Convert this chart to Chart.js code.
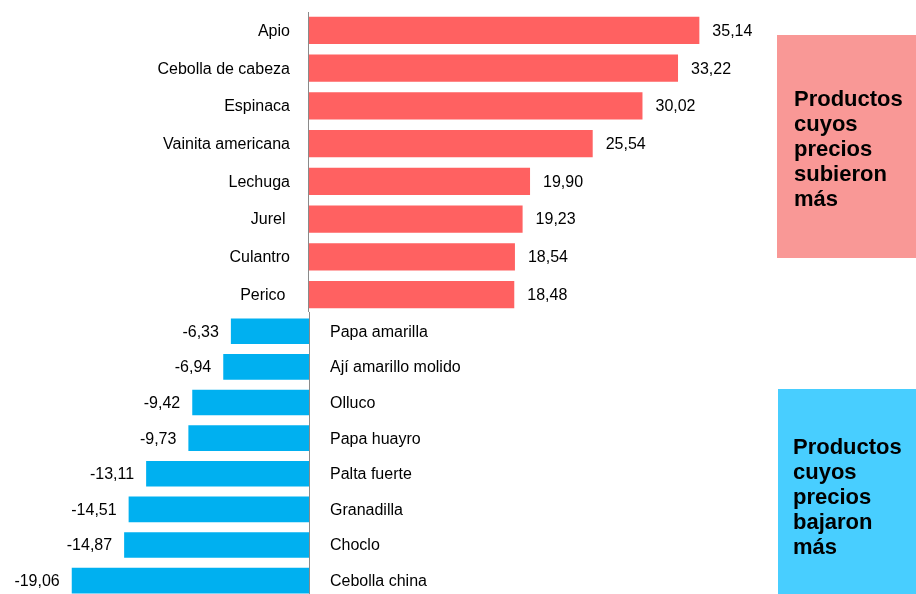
<!DOCTYPE html>
<html><head><meta charset="utf-8">
<script src="https://cdn.jsdelivr.net/npm/chart.js@4/dist/chart.umd.min.js"></script>
<style>html,body{margin:0;padding:0;background:#fff;overflow:hidden;} canvas{display:block;}</style>
</head><body>
<canvas id="c" width="916" height="599"></canvas>
<script>
const categoriesUp = ['Apio', 'Cebolla de cabeza', 'Espinaca', 'Vainita americana', 'Lechuga', 'Jurel ', 'Culantro', 'Perico '];
const valuesUp = [35.14, 33.22, 30.02, 25.54, 19.90, 19.23, 18.54, 18.48];
const categoriesDown = ['Papa amarilla', 'Ají amarillo molido', 'Olluco', 'Papa huayro', 'Palta fuerte', 'Granadilla', 'Choclo', 'Cebolla china'];
const valuesDown = [-6.33, -6.94, -9.42, -9.73, -13.11, -14.51, -14.87, -19.06];
const boxTextUp = ['Productos', 'cuyos', 'precios', 'subieron', 'más'];
const boxTextDown = ['Productos', 'cuyos', 'precios', 'bajaron', 'más'];

const FONT = '"Liberation Sans", Arial, sans-serif';
const fmt = v => v.toFixed(2).replace('.', ',');

const labelPlugin = {
  id: 'labels',
  afterDatasetsDraw(chart) {
    const ctx = chart.ctx;
    const x = chart.scales.x, x2 = chart.scales.x2, y = chart.scales.y, y2 = chart.scales.y2;
    ctx.save();
    // axis lines
    ctx.strokeStyle = '#8a8a8a';
    ctx.lineWidth = 1;
    const z1 = x.getPixelForValue(0), z2 = x2.getPixelForValue(0);
    ctx.beginPath();
    ctx.moveTo(Math.round(z1) - 0.5, 12);
    ctx.lineTo(Math.round(z1) - 0.5, y.bottom - 1.5);
    ctx.stroke();
    ctx.beginPath();
    ctx.moveTo(Math.round(z2) - 0.5, y.bottom - 1.5);
    ctx.lineTo(Math.round(z2) - 0.5, y2.bottom);
    ctx.stroke();

    ctx.font = '16px ' + FONT;
    ctx.fillStyle = '#000';
    ctx.textBaseline = 'middle';
    const m1 = chart.getDatasetMeta(0), m2 = chart.getDatasetMeta(1);
    m1.data.forEach((bar, i) => {
      ctx.textAlign = 'right';
      ctx.fillText(categoriesUp[i], z1 - 19, bar.y + 1);
      ctx.textAlign = 'left';
      ctx.fillText(fmt(valuesUp[i]), bar.x + 13, bar.y + 1);
    });
    m2.data.forEach((bar, i) => {
      ctx.textAlign = 'left';
      ctx.fillText(categoriesDown[i], z2 + 20, bar.y + 1);
      ctx.textAlign = 'right';
      ctx.fillText(fmt(valuesDown[i]), bar.x - 12, bar.y + 1);
    });

    // side boxes
    ctx.fillStyle = '#F99896';
    ctx.fillRect(777, 35, 139, 223);
    ctx.fillStyle = '#48CEFF';
    ctx.fillRect(778, 389, 138, 210);
    ctx.fillStyle = '#000';
    ctx.font = 'bold 22px ' + FONT;
    ctx.textAlign = 'left';
    ctx.textBaseline = 'alphabetic';
    boxTextUp.forEach((t, i) => ctx.fillText(t, 794, 106 + i * 25));
    boxTextDown.forEach((t, i) => ctx.fillText(t, 793, 454 + i * 25));
    ctx.restore();
  }
};

new Chart(document.getElementById('c'), {
  type: 'bar',
  data: {
    datasets: [
      { data: valuesUp, xAxisID: 'x', yAxisID: 'y', backgroundColor: '#FF6161', borderWidth: 0,
        grouped: false, barPercentage: 0.9, categoryPercentage: 0.8 },
      { data: valuesDown, xAxisID: 'x2', yAxisID: 'y2', backgroundColor: '#00B0F0', borderWidth: 0,
        grouped: false, barPercentage: 0.9, categoryPercentage: 0.8 }
    ]
  },
  options: {
    indexAxis: 'y',
    responsive: false,
    animation: false,
    devicePixelRatio: 1,
    layout: { padding: { top: 11.5, bottom: 0.6, left: 0, right: 0 } },
    plugins: { legend: { display: false }, tooltip: { enabled: false } },
    scales: {
      x: { type: 'linear', position: 'bottom', display: false, min: -27.81, max: 54.64 },
      x2: { type: 'linear', position: 'bottom', display: false, min: -24.8, max: 48.48 },
      y: { type: 'category', labels: categoriesUp, position: 'left', display: false,
           stack: 'rows', stackWeight: 302, weight: 2, offset: true },
      y2: { type: 'category', labels: categoriesDown, position: 'left', display: false,
            stack: 'rows', stackWeight: 285, weight: 1, offset: true }
    }
  },
  plugins: [labelPlugin]
});
</script>
</body></html>
